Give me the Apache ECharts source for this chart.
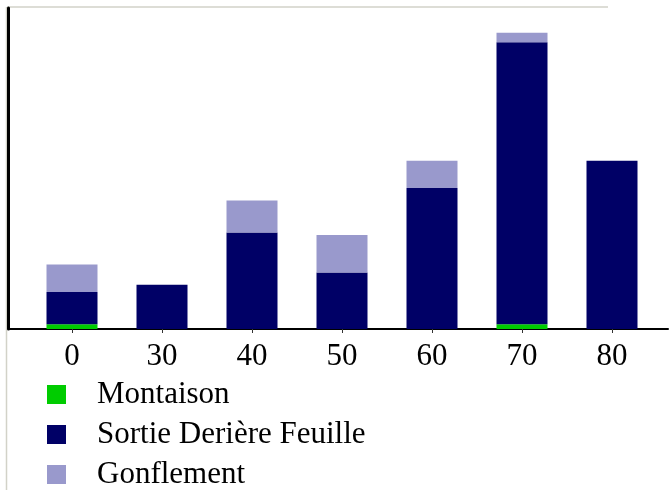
<!DOCTYPE html>
<html lang="fr">
<head>
    <meta charset="UTF-8">
    <title>Stades</title>
    <script src="https://cdn.jsdelivr.net/npm/echarts@6/dist/echarts.min.js"></script>
    <style>
        html, body { margin: 0; padding: 0; background: #fff; }
    </style>
</head>
<body>
<div id="main" style="width: 671px;height:490px;"></div>
<script type="text/javascript">
    // categories (x axis)
    var categories = ['0', '30', '40', '50', '60', '70', '80'];
    // stacked values (arbitrary units, axis 0..100)
    var montaison = [1.5, 0, 0, 0, 0, 1.5, 0];
    var sortieFeuille = [10.0, 13.8, 30.1, 17.6, 43.9, 87.8, 52.4];
    var gonflement = [8.6, 0, 9.9, 11.7, 8.5, 3.0, 0];

    var serif = 'Liberation Serif';
    var myChart = echarts.init(document.getElementById('main'));

    myChart.setOption({
        animation: false,
        textStyle: { fontFamily: serif },
        // cadre gris clair en haut et a gauche
        graphic: [
            { type: 'line', shape: { x1: 7, y1: 7, x2: 608, y2: 7 }, style: { stroke: '#d2d2c8', lineWidth: 1.5 } },
            { type: 'line', shape: { x1: 6.5, y1: 7, x2: 6.5, y2: 490 }, style: { stroke: '#d2d2c8', lineWidth: 1.5 } }
        ],
        legend: {
            orient: 'vertical',
            left: 47,
            top: 379,
            height: 200,
            padding: 0,
            itemWidth: 19,
            itemHeight: 19,
            itemGap: 9,
            icon: 'rect',
            data: ['Montaison', 'Sortie Derière Feuille', 'Gonflement'],
            textStyle: { fontFamily: serif, fontSize: 31, color: '#000', lineHeight: 19, padding: [0, 0, 0, 26] }
        },
        grid: [
            { left: 27, right: 14, top: 8, bottom: 161 },   // barres
            { left: 8.5, right: 3, top: 8, bottom: 161 }   // lignes des axes
        ],
        xAxis: [
            {
                type: 'category',
                gridIndex: 0,
                data: categories,
                axisLine: { show: false },
                axisTick: { show: true, alignWithLabel: true, length: 4, lineStyle: { color: '#333', width: 1 } },
                axisLabel: { fontFamily: serif, fontSize: 31, color: '#000', margin: 12 }
            },
            {
                type: 'value',
                gridIndex: 1,
                min: 0, max: 1,
                axisLine: { show: true, lineStyle: { color: '#000', width: 2 } },
                axisTick: { show: false },
                axisLabel: { show: false },
                splitLine: { show: false }
            }
        ],
        yAxis: [
            {
                type: 'value',
                gridIndex: 0,
                min: 0, max: 100,
                axisLine: { show: false },
                axisTick: { show: false },
                axisLabel: { show: false },
                splitLine: { show: false }
            },
            {
                type: 'value',
                gridIndex: 1,
                min: 0, max: 1,
                axisLine: { show: true, lineStyle: { color: '#000', width: 3 } },
                axisTick: { show: false },
                axisLabel: { show: false },
                splitLine: { show: false }
            }
        ],
        series: [
            {
                name: 'Montaison', type: 'bar', stack: 'total', barWidth: 51,
                xAxisIndex: 0, yAxisIndex: 0,
                itemStyle: { color: '#00cc00' },
                data: montaison
            },
            {
                name: 'Sortie Derière Feuille', type: 'bar', stack: 'total', barWidth: 51,
                xAxisIndex: 0, yAxisIndex: 0,
                itemStyle: { color: '#000066' },
                data: sortieFeuille
            },
            {
                name: 'Gonflement', type: 'bar', stack: 'total', barWidth: 51,
                xAxisIndex: 0, yAxisIndex: 0,
                itemStyle: { color: '#9999cc' },
                data: gonflement
            }
        ]
    });
</script>
</body>
</html>
